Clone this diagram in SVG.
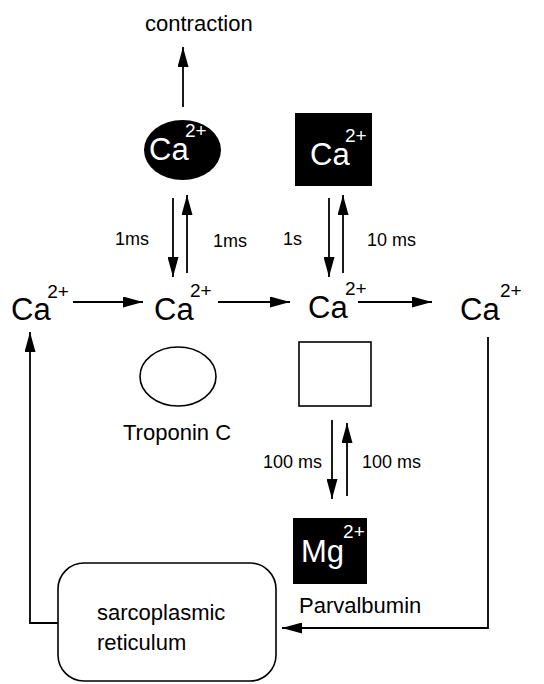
<svg xmlns="http://www.w3.org/2000/svg" width="544" height="684" viewBox="0 0 544 684">
<style>
text{font-family:"Liberation Sans",Arial,sans-serif;fill:#000}
.ca{font-size:31px}
.sup{font-size:19px}
.w{fill:#fff}
.lbl{font-size:22px}
.t{font-size:18px}
.ln{stroke:#000;stroke-width:1.8;fill:none}
</style>
<defs>
<marker id="ah" markerUnits="userSpaceOnUse" markerWidth="20" markerHeight="11" refX="20" refY="5.5" orient="auto">
<path d="M0,0 L20,5.5 L0,11 z" fill="#000"/>
</marker>
</defs>
<rect width="544" height="684" fill="#fff"/>
<g id="connectors">
<line class="ln" x1="183" y1="107" x2="183" y2="47" marker-end="url(#ah)"/>
<line class="ln" x1="173" y1="198" x2="173" y2="277" marker-end="url(#ah)"/>
<line class="ln" x1="187" y1="273" x2="187" y2="195" marker-end="url(#ah)"/>
<line class="ln" x1="329" y1="198" x2="329" y2="277" marker-end="url(#ah)"/>
<line class="ln" x1="343" y1="273" x2="343" y2="195" marker-end="url(#ah)"/>
<line class="ln" x1="73" y1="302" x2="143" y2="302" marker-end="url(#ah)"/>
<line class="ln" x1="218" y1="302" x2="290" y2="302" marker-end="url(#ah)"/>
<line class="ln" x1="358" y1="302" x2="432" y2="302" marker-end="url(#ah)"/>
<line class="ln" x1="332" y1="420" x2="332" y2="499" marker-end="url(#ah)"/>
<line class="ln" x1="347" y1="496" x2="347" y2="423" marker-end="url(#ah)"/>
<polyline class="ln" points="58,623 30,623 30,332" marker-end="url(#ah)"/>
<polyline class="ln" points="488,337 488,628 282,628" marker-end="url(#ah)"/>
<text class="t" x="115" y="245">1ms</text>
<text class="t" x="213" y="247">1ms</text>
<text class="t" x="283" y="245">1s</text>
<text class="t" x="367" y="246">10 ms</text>
<text class="t" x="263" y="468">100 ms</text>
<text class="t" x="362" y="468">100 ms</text>
</g>
<g id="contraction">
<text class="lbl" x="145" y="31">contraction</text>
</g>
<g id="tnc-bound">
<ellipse cx="182.5" cy="150" rx="38.5" ry="30" fill="#000"/>
<text class="ca w" x="149" y="160">Ca<tspan class="sup" dx="-3.6" dy="-23">2+</tspan></text>
</g>
<g id="pv-bound">
<rect x="295" y="113" width="77" height="73" fill="#000"/>
<text class="ca w" x="310" y="165">Ca<tspan class="sup" dx="-4.6" dy="-23">2+</tspan></text>
</g>
<g id="ca1">
<text class="ca" x="11" y="320">Ca<tspan class="sup" dx="-3.4" dy="-22">2+</tspan></text>
</g>
<g id="ca2">
<text class="ca" x="154" y="320">Ca<tspan class="sup" dx="-3.6" dy="-23">2+</tspan></text>
</g>
<g id="ca3">
<text class="ca" x="308" y="318">Ca<tspan class="sup" dx="-2.6" dy="-23">2+</tspan></text>
</g>
<g id="ca4">
<text class="ca" x="460" y="320">Ca<tspan class="sup" dx="0.4" dy="-23">2+</tspan></text>
</g>
<g id="troponin">
<ellipse cx="178" cy="376.5" rx="38" ry="29.5" fill="none" stroke="#000" stroke-width="1.6"/>
<text class="lbl" x="123" y="440">Troponin C</text>
</g>
<g id="parvalbumin-free">
<rect x="299" y="342" width="72" height="64" fill="none" stroke="#000" stroke-width="1.6"/>
</g>
<g id="pv-mg">
<rect x="293" y="518" width="74" height="66" fill="#000"/>
<text class="ca w" x="301" y="562">Mg<tspan class="sup" dx="-1" dy="-24">2+</tspan></text>
<text class="lbl" x="299" y="613">Parvalbumin</text>
</g>
<g id="sr">
<rect x="58" y="563" width="218" height="118" rx="26" fill="#fff" stroke="#000" stroke-width="1.6"/>
<text class="lbl" x="97" y="620">sarcoplasmic</text>
<text class="lbl" x="97" y="650">reticulum</text>
</g>
</svg>
